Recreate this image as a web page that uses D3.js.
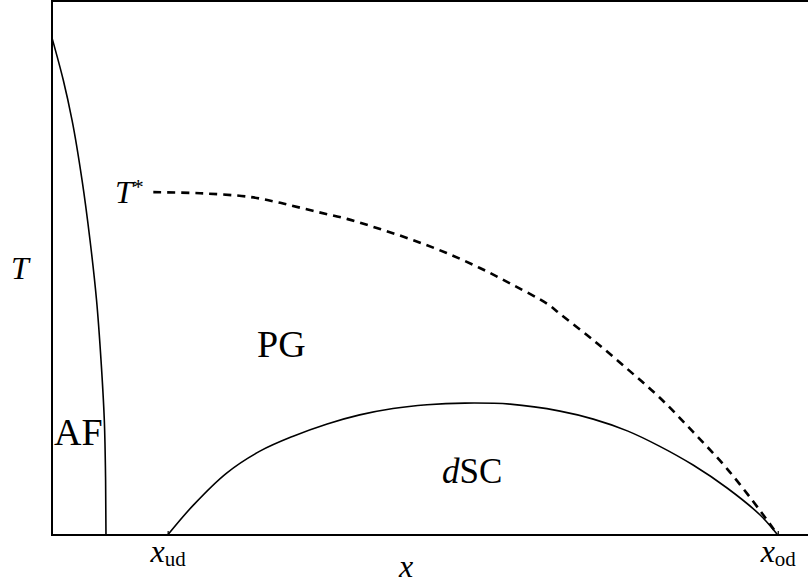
<!DOCTYPE html>
<html>
<head>
<meta charset="utf-8">
<script src="https://cdn.jsdelivr.net/npm/d3@7"></script>
<style>
  body { margin: 0; background: #fff; }
  text { font-family: "Liberation Serif", "DejaVu Serif", serif; fill: #000; }
</style>
</head>
<body>
<script>
// phase diagram data (x = doping, T = temperature, both normalised)
var afX = [0, 0.0149, 0.0265, 0.0397, 0.0503, 0.0589, 0.0648, 0.0692, 0.0709, 0.0714];
var afT = [0.931, 0.852, 0.777, 0.665, 0.552, 0.440, 0.328, 0.215, 0.103, 0];

var scX = [0.153, 0.187, 0.231, 0.275, 0.319, 0.364, 0.407, 0.451, 0.496, 0.546, 0.606, 0.672, 0.716, 0.761, 0.804, 0.848, 0.893, 0.937, 0.960];
var scT = [0, 0.056, 0.116, 0.157, 0.185, 0.208, 0.225, 0.237, 0.244, 0.247, 0.245, 0.232, 0.217, 0.195, 0.166, 0.131, 0.088, 0.037, 0];

var pgX = [0.134, 0.196, 0.262, 0.302, 0.345, 0.390, 0.434, 0.478, 0.522, 0.566, 0.610, 0.655, 0.672, 0.716, 0.761, 0.804, 0.848, 0.893, 0.937, 0.960];
var pgT = [0.642, 0.640, 0.633, 0.622, 0.607, 0.592, 0.573, 0.552, 0.528, 0.500, 0.468, 0.433, 0.414, 0.365, 0.311, 0.257, 0.193, 0.124, 0.045, 0];

var tickX = [0.153, 0.960];
var tickSub = ['ud', 'od'];

var W = 808, H = 584;
var padL = 52, padT = 1, padB = 535;

var svg = d3.select('body').append('svg')
    .attr('width', W)
    .attr('height', H);

var x = d3.scaleLinear().domain([0, 1]).range([padL, W]);
var y = d3.scaleLinear().domain([0, 1]).range([padB, padT]);

// frame (right side runs off the picture)
svg.append('rect')
    .attr('x', padL).attr('y', padT)
    .attr('width', W - padL + 10).attr('height', padB - padT)
    .attr('fill', 'none')
    .attr('stroke', '#000')
    .attr('stroke-width', 2);

// x axis with tiny inward ticks
var xAxis = svg.append('g')
    .attr('transform', 'translate(0,' + padB + ')')
    .call(d3.axisBottom(x).tickValues(tickX).tickSize(-4).tickFormat(''));
xAxis.select('.domain').remove();
xAxis.selectAll('.tick line').attr('stroke', '#000').attr('stroke-width', 1.2);
xAxis.selectAll('.tick').each(function(d, i) {
  var t = d3.select(this).append('text')
      .attr('y', 27)
      .attr('text-anchor', 'middle')
      .attr('font-size', 32);
  t.append('tspan').attr('font-style', 'italic').text('x');
  t.append('tspan').attr('font-size', 21).attr('dy', 4).text(tickSub[i]);
});

function pts(xs, ts) {
  return xs.map(function(v, i) { return [v, ts[i]]; });
}

var line = d3.line()
    .x(function(d) { return x(d[0]); })
    .y(function(d) { return y(d[1]); })
    .curve(d3.curveCatmullRom.alpha(0.5));

// AF boundary is a function of T, so smooth along y
var lineY = d3.line()
    .x(function(d) { return x(d[0]); })
    .y(function(d) { return y(d[1]); })
    .curve(d3.curveMonotoneY);

svg.append('path')
    .datum(pts(afX, afT))
    .attr('d', lineY)
    .attr('fill', 'none')
    .attr('stroke', '#000')
    .attr('stroke-width', 1.6);

svg.append('path')
    .datum(pts(scX, scT))
    .attr('d', line)
    .attr('fill', 'none')
    .attr('stroke', '#000')
    .attr('stroke-width', 1.6);

svg.append('path')
    .datum(pts(pgX, pgT))
    .attr('d', line)
    .attr('fill', 'none')
    .attr('stroke', '#000')
    .attr('stroke-width', 2.6)
    .attr('stroke-dasharray', '8,6');

// axis titles
svg.append('text')
    .attr('x', 20).attr('y', 279)
    .attr('text-anchor', 'middle')
    .attr('font-size', 32)
    .attr('font-style', 'italic')
    .text('T');

svg.append('text')
    .attr('x', 406).attr('y', 577)
    .attr('text-anchor', 'middle')
    .attr('font-size', 32)
    .attr('font-style', 'italic')
    .text('x');

// region labels
var tStar = svg.append('text')
    .attr('x', 115).attr('y', 203)
    .attr('font-size', 32);
tStar.append('tspan').attr('font-style', 'italic').text('T');
tStar.append('tspan').attr('font-size', 22).attr('dy', -9).text('*');

svg.append('text')
    .attr('x', 257).attr('y', 357)
    .attr('font-size', 38)
    .text('PG');

svg.append('text')
    .attr('x', 54).attr('y', 445)
    .attr('font-size', 38)
    .text('AF');

var dsc = svg.append('text')
    .attr('x', 442).attr('y', 483)
    .attr('font-size', 35);
dsc.append('tspan').attr('font-style', 'italic').text('d');
dsc.append('tspan').text('SC');
</script>
</body>
</html>
